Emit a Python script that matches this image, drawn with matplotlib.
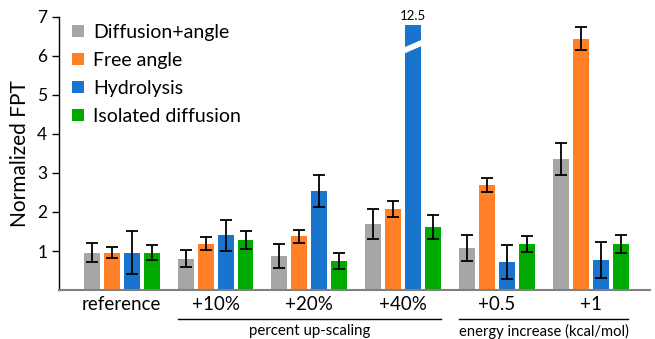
import numpy as np
import matplotlib.pyplot as plt
from matplotlib.patches import Polygon
from matplotlib.transforms import blended_transform_factory

plt.rcParams['font.family'] = ['Lato', 'DejaVu Sans']

groups = ['reference', '+10%', '+20%', '+40%', '+0.5', '+1']
series = ['Diffusion+angle', 'Free angle', 'Hydrolysis', 'Isolated diffusion']
colors = ['#A6A6A6', '#FF8026', '#1874CD', '#00AA00']

diff_angle = [0.96, 0.80, 0.87, 1.69, 1.08, 3.36]
diff_angle_err = [0.25, 0.22, 0.30, 0.39, 0.34, 0.41]
free_angle = [0.96, 1.19, 1.38, 2.08, 2.69, 6.44]
free_angle_err = [0.15, 0.16, 0.17, 0.20, 0.18, 0.30]
hydrolysis = [0.96, 1.40, 2.54, 12.5, 0.72, 0.77]
hydrolysis_err = [0.55, 0.40, 0.42, 0.0, 0.43, 0.45]
isolated = [0.96, 1.29, 0.74, 1.62, 1.18, 1.18]
isolated_err = [0.20, 0.23, 0.21, 0.31, 0.20, 0.24]

values = [diff_angle, free_angle, hydrolysis, isolated]
errors = [diff_angle_err, free_angle_err, hydrolysis_err, isolated_err]

cap = 6.8  # bars above this are drawn broken

fig = plt.figure(figsize=(6.55, 3.39), dpi=100)
ax = fig.add_axes([0.090, 0.1445, 0.902, 0.8055])

x = np.arange(len(groups))
step = 0.213
width = 0.17
for j, (vals, errs) in enumerate(zip(values, errors)):
    pos = x + (j - 1.5) * step
    shown = [min(v, cap) for v in vals]
    ax.bar(pos, shown, width, color=colors[j], label=series[j], zorder=2)
    for p, v, e in zip(pos, vals, errs):
        if v > cap:
            # break mark and true value label
            band = Polygon([(p - width / 2 - 0.01, 6.08), (p + width / 2 + 0.01, 6.28),
                            (p + width / 2 + 0.01, 6.40), (p - width / 2 - 0.01, 6.20)],
                           closed=True, color='white', zorder=3)
            ax.add_patch(band)
            ax.text(p, cap + 0.08, f'{v:g}', ha='center', va='bottom', fontsize=9.5)
        else:
            ax.errorbar(p, v, yerr=e, fmt='none', ecolor='black', elinewidth=1.3,
                        capsize=4, capthick=1.3, zorder=4)

ax.set_xlim(-0.67, 5.63)
ax.set_ylim(0, 7)
ax.set_yticks([1, 2, 3, 4, 5, 6, 7])
ax.tick_params(axis='y', labelsize=12.5, length=5, width=1)
ax.set_xticks(x)
ax.set_xticklabels(groups, fontsize=13.5)
ax.tick_params(axis='x', length=0, pad=4)
ax.set_ylabel('Normalized FPT', fontsize=15, labelpad=5)

for s in ['top', 'right']:
    ax.spines[s].set_visible(False)
ax.spines['left'].set_linewidth(1)
ax.spines['bottom'].set_color('#808080')
ax.spines['bottom'].set_linewidth(1.5)

trans = blended_transform_factory(ax.transData, ax.transAxes)
ax.plot([0.6, 3.4], [-0.106, -0.106], color='black', lw=1, transform=trans, clip_on=False)
ax.text(2.0, -0.125, 'percent up-scaling', transform=trans, ha='center', va='top', fontsize=10.8)
ax.plot([3.6, 5.4], [-0.106, -0.106], color='black', lw=1, transform=trans, clip_on=False)
ax.text(4.5, -0.125, 'energy increase (kcal/mol)', transform=trans, ha='center', va='top', fontsize=10.6)

ax.legend(loc='upper left', bbox_to_anchor=(-0.005, 1.032), frameon=False, fontsize=14,
          handlelength=0.62, handleheight=0.62, handletextpad=0.5, labelspacing=0.57,
          borderaxespad=0.4)

fig.savefig('out.png', dpi=100)
